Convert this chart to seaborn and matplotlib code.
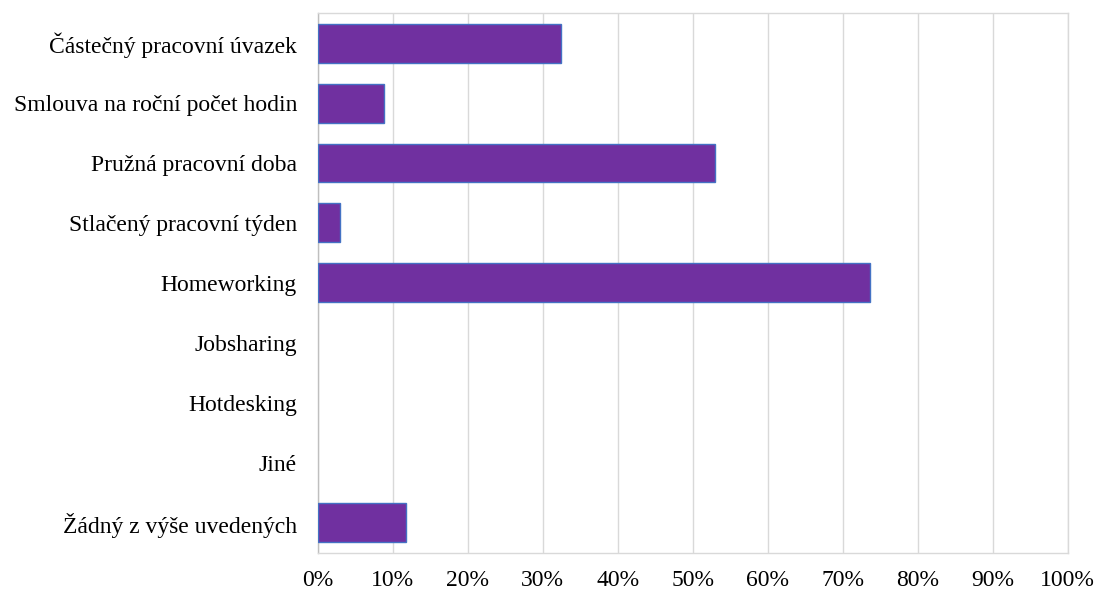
import matplotlib
matplotlib.use("Agg")
import matplotlib.pyplot as plt
import seaborn as sns
import pandas as pd
from matplotlib.ticker import FuncFormatter

categories = ["Částečný pracovní úvazek", "Smlouva na roční počet hodin",
              "Pružná pracovní doba", "Stlačený pracovní týden", "Homeworking",
              "Jobsharing", "Hotdesking", "Jiné", "Žádný z výše uvedených"]
values = [32.5, 8.8, 53.0, 3.0, 73.7, 0, 0, 0, 11.8]
xticks = [0, 10, 20, 30, 40, 50, 60, 70, 80, 90, 100]

sns.set_theme(style="white")
plt.rcParams['font.family'] = ['Liberation Serif', 'DejaVu Serif']

df = pd.DataFrame({"cat": categories, "val": values})

fig = plt.figure(figsize=(10.96, 5.92), dpi=100)
ax = fig.add_axes([0.290, 0.066, 0.684, 0.912])
sns.barplot(data=df, x="val", y="cat", orient="h", color="#7030A0",
            edgecolor="#4472C4", linewidth=1.0, width=0.65, saturation=1, ax=ax, zorder=3)
for p in ax.patches:
    if p.get_width() == 0:
        p.set_linewidth(0)
ax.set_xlim(0, 100)
ax.set_xticks(xticks)
ax.xaxis.set_major_formatter(FuncFormatter(lambda v, p: f"{int(v)}%"))
ax.grid(axis="x", color="#D9D9D9", linewidth=1.0, zorder=0)
ax.set_axisbelow(True)
ax.set_xlabel("")
ax.set_ylabel("")
for s in ax.spines.values():
    s.set_color("#D9D9D9")
    s.set_linewidth(1.0)
ax.spines["left"].set_color("#BFBFBF")
ax.tick_params(axis="both", length=0, labelsize=17, colors="#000000")
ax.tick_params(axis="x", pad=12)
ax.tick_params(axis="y", pad=15)
fig.savefig("out.png", dpi=100)
